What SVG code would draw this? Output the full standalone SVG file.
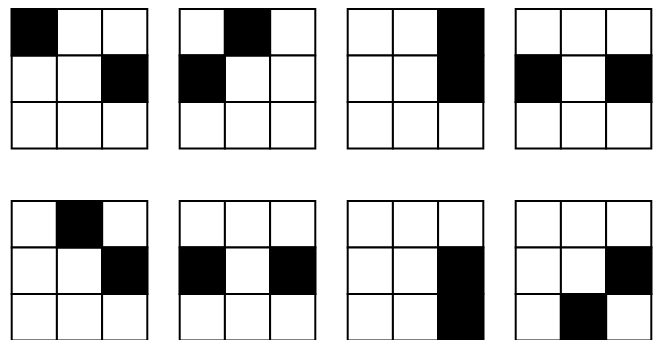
<svg xmlns="http://www.w3.org/2000/svg" width="661" height="340" viewBox="0 0 661 340">
<style>
.c{fill:#fff;stroke:#000;stroke-width:2}
.f{fill:#000;stroke:#000;stroke-width:2}
</style>
<defs>
<g id="row">
<rect class="c" x="0" y="0" width="45.2" height="46.5"/>
<rect class="c" x="45.2" y="0" width="45.2" height="46.5"/>
<rect class="c" x="90.4" y="0" width="45.2" height="46.5"/>
</g>
<g id="grid">
<use href="#row" y="0"/>
<use href="#row" y="46.5"/>
<use href="#row" y="93"/>
</g>
</defs>
<rect width="661" height="340" fill="#fff"/>
<g id="grid1" transform="translate(11.7,9)">
<use href="#grid"/>
<rect class="f" x="0" y="0" width="45.2" height="46.5"/>
<rect class="f" x="90.4" y="46.5" width="45.2" height="46.5"/>
</g>
<g id="grid2" transform="translate(179.7,9)">
<use href="#grid"/>
<rect class="f" x="45.2" y="0" width="45.2" height="46.5"/>
<rect class="f" x="0" y="46.5" width="45.2" height="46.5"/>
</g>
<g id="grid3" transform="translate(347.7,9)">
<use href="#grid"/>
<rect class="f" x="90.4" y="0" width="45.2" height="93"/>
</g>
<g id="grid4" transform="translate(515.7,9)">
<use href="#grid"/>
<rect class="f" x="0" y="46.5" width="45.2" height="46.5"/>
<rect class="f" x="90.4" y="46.5" width="45.2" height="46.5"/>
</g>
<g id="grid5" transform="translate(11.7,201)">
<use href="#grid"/>
<rect class="f" x="45.2" y="0" width="45.2" height="46.5"/>
<rect class="f" x="90.4" y="46.5" width="45.2" height="46.5"/>
</g>
<g id="grid6" transform="translate(179.7,201)">
<use href="#grid"/>
<rect class="f" x="0" y="46.5" width="45.2" height="46.5"/>
<rect class="f" x="90.4" y="46.5" width="45.2" height="46.5"/>
</g>
<g id="grid7" transform="translate(347.7,201)">
<use href="#grid"/>
<rect class="f" x="90.4" y="46.5" width="45.2" height="93"/>
</g>
<g id="grid8" transform="translate(515.7,201)">
<use href="#grid"/>
<rect class="f" x="90.4" y="46.5" width="45.2" height="46.5"/>
<rect class="f" x="45.2" y="93" width="45.2" height="46.5"/>
</g>
<g id="connectors"/>
</svg>
